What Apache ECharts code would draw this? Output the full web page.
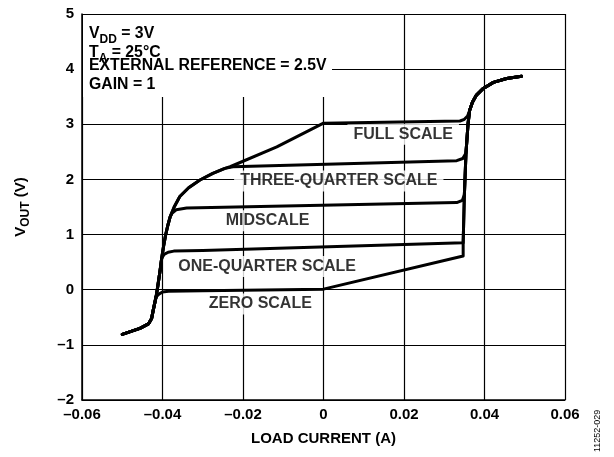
<!DOCTYPE html>
<html>
<head>
<meta charset="utf-8">
<script src="https://cdn.jsdelivr.net/npm/echarts@6/dist/echarts.min.js"></script>
<style>
html,body{margin:0;padding:0;background:#fff;}
#chart{width:614px;height:457px;}
</style>
</head>
<body>
<div id="chart"></div>
<script>
// ---- data ----
const xTicks = [-0.06, -0.04, -0.02, 0, 0.02, 0.04, 0.06];
const yTicks = [-2, -1, 0, 1, 2, 3, 4, 5];

// shared lower-left tail (sinking current)
const lowerTail = [[-0.050,-0.81],[-0.048,-0.76],[-0.0456,-0.70],[-0.0435,-0.62],[-0.0427,-0.52],[-0.0423,-0.37],[-0.0416,-0.13]];
// shared steep rise on the left
const leftRise = [[-0.0412,0.05],[-0.0406,0.35],[-0.0402,0.57],[-0.0397,0.80],[-0.0392,1.00],[-0.0387,1.16],[-0.0381,1.32],[-0.0371,1.50],[-0.0357,1.69],[-0.0335,1.85],[-0.0307,1.99],[-0.0275,2.11],[-0.0245,2.20]];
// shared steep rise on the right (sourcing current) and upper tail
const rightRise = [[0.0347,0.61],[0.0347,0.85],[0.0350,1.72],[0.0354,2.48],[0.0359,3.0],[0.0363,3.25],[0.0370,3.40],[0.0380,3.53],[0.0397,3.65],[0.0422,3.76],[0.0455,3.83],[0.0492,3.87]];

// plateau of each code
const zeroMid = [[-0.0409,-0.08],[-0.0400,-0.04],[-0.0385,-0.03],[-0.030,-0.02],[0,0.01],[0.0347,0.61]];
const quarterMid = [[-0.0396,0.64],[-0.0386,0.68],[-0.0372,0.70],[-0.030,0.71],[0.0347,0.85]];
const midMid = [[-0.0376,1.39],[-0.0366,1.45],[-0.034,1.48],[0.0331,1.58],[0.0345,1.62],[0.0350,1.72]];
const threeQuarterMid = [[-0.0225,2.23],[0.0331,2.34],[0.0346,2.38],[0.0354,2.48]];
const fullMid = [[-0.0232,2.23],[-0.0116,2.59],[0,3.02],[0.0339,3.06],[0.0350,3.09],[0.0358,3.15]];

const labelText = ['FULL SCALE','THREE-QUARTER SCALE','MIDSCALE','ONE-QUARTER SCALE','ZERO SCALE'];
const labelX = [0.0198, 0.0038, -0.0139, -0.0140, -0.0157];
const labelY = [2.82, 1.97, 1.25, 0.42, -0.26];

const noteLines = ['{m|V}{s|DD}{m| = 3V}', '{m|T}{s|A}{m| = 25°C}', '{m|EXTERNAL REFERENCE = 2.5V}', '{m|GAIN = 1}'];

// ---- build curves ----
function build(leftUpTo, mid) {
  const last = mid[mid.length - 1][1];
  return lowerTail
    .concat(leftRise.filter(p => p[1] <= leftUpTo))
    .concat(mid)
    .concat(rightRise.filter(p => p[1] > last));
}
const curves = [
  build(-1, zeroMid),
  build(0.57, quarterMid),
  build(1.32, midMid),
  build(2.20, threeQuarterMid),
  build(2.20, fullMid)
];

const FONT = '"Liberation Sans", Arial, Helvetica, sans-serif';
const fmt = v => {
  if (v === 0) return '0';
  const s = Math.abs(v) < 1 && v !== Math.round(v) ? Math.abs(v).toFixed(2) : String(Math.abs(v));
  return (v < 0 ? '\u2013' : '') + s;
};

const chart = echarts.init(document.getElementById('chart'), null, {renderer: 'canvas'});

const series = curves.map(c => ({
  type: 'line',
  data: c,
  showSymbol: false,
  symbol: 'none',
  smooth: false,
  z: 3,
  lineStyle: {color: '#000', width: 3, join: 'round', cap: 'round'},
  silent: true
}));

series.push({
  type: 'scatter',
  z: 2,
  symbolSize: 0,
  silent: true,
  data: labelText.map((t, i) => ({value: [labelX[i], labelY[i]], name: t})),
  label: {
    show: true,
    position: 'inside',
    formatter: p => p.name,
    color: '#000000',
    fontFamily: FONT,
    fontWeight: 'bold',
    fontSize: 16,
    backgroundColor: '#fff',
    padding: [3, 6, 2, 6]
  },
  emphasis: {disabled: true}
});

const mainR = {fontFamily: FONT, fontWeight: 'bold', fontSize: 15.8, color: '#000', lineHeight: 18};
const subR = {fontFamily: FONT, fontWeight: 'bold', fontSize: 12, color: '#000', lineHeight: 18, padding: [13, 0, 0, 0]};
const noteTops = [21, 40, 58, 76.5];

chart.setOption({
  animation: false,
  backgroundColor: '#fff',
  grid: {left: 82, right: 49, top: 14, bottom: 57, containLabel: false},
  xAxis: {
    type: 'value', min: -0.06, max: 0.06, interval: 0.02,
    name: 'LOAD CURRENT (A)', nameLocation: 'middle', nameGap: 31,
    nameTextStyle: {fontFamily: FONT, fontWeight: 'bold', fontSize: 15, color: '#000'},
    axisLine: {show: true, onZero: false, lineStyle: {color: '#000', width: 1.5}},
    axisTick: {show: false},
    axisLabel: {margin: 7, fontFamily: FONT, fontWeight: 'bold', fontSize: 15, color: '#000',
      formatter: v => fmt(xTicks.reduce((a, b) => Math.abs(b - v) < Math.abs(a - v) ? b : a))},
    splitLine: {show: true, lineStyle: {color: '#000', width: 1.2}}
  },
  yAxis: {
    type: 'value', min: -2, max: 5, interval: 1,
    name: '{m|V}{s|OUT}{m| (V)}', nameLocation: 'middle', nameGap: 52,
    nameTextStyle: {fontFamily: FONT, fontWeight: 'bold', fontSize: 15, color: '#000',
      rich: {m: {fontFamily: FONT, fontWeight: 'bold', fontSize: 15, color: '#000', lineHeight: 18},
             s: {fontFamily: FONT, fontWeight: 'bold', fontSize: 12, color: '#000', lineHeight: 18, padding: [10, 0, 0, 0]}}},
    axisLine: {show: true, onZero: false, lineStyle: {color: '#000', width: 1.5}},
    axisTick: {show: false},
    axisLabel: {margin: 8, fontFamily: FONT, fontWeight: 'bold', fontSize: 15, color: '#000',
      formatter: v => fmt(yTicks.reduce((a, b) => Math.abs(b - v) < Math.abs(a - v) ? b : a))},
    splitLine: {show: true, lineStyle: {color: '#000', width: 1.2}}
  },
  graphic: [
    {type: 'rect', left: 83, top: 15, z: 9, silent: true, shape: {width: 249, height: 82}, style: {fill: '#fff'}}
  ].concat(noteLines.map((t, i) => ({
    type: 'text', left: 89, top: noteTops[i], z: 10, silent: true,
    style: {text: t, rich: {m: mainR, s: subR}, fill: '#000'}
  }))).concat([
    {type: 'text', x: 593, y: 452, rotation: Math.PI / 2, z: 10, silent: true,
      style: {text: '11252-029', font: '9px ' + FONT, fill: '#000', align: 'left', verticalAlign: 'top'}}
  ]),
  series: series
});
</script>
</body>
</html>
